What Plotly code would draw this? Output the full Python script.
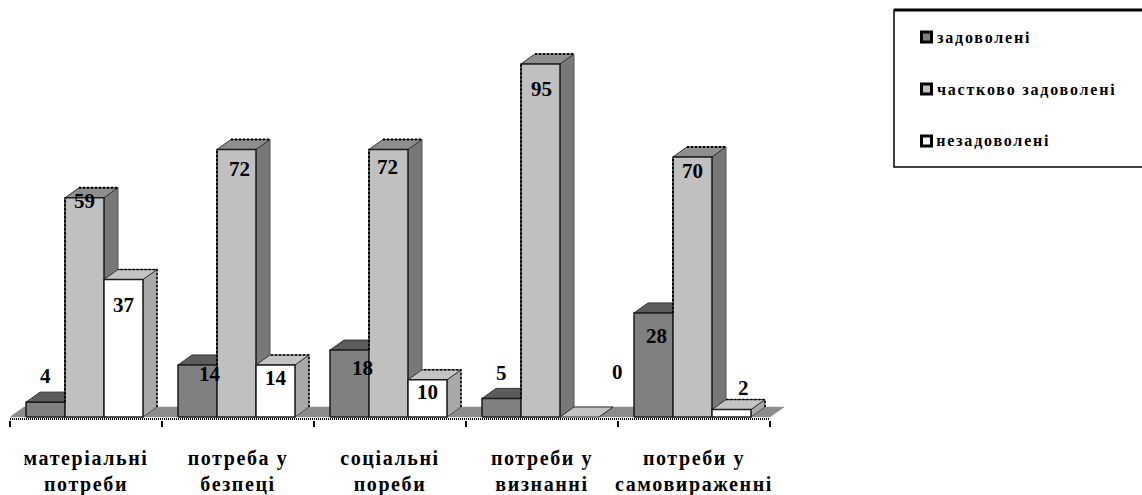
import plotly.graph_objects as go

categories = ["матеріальні<br>потреби", "потреба у<br>безпеці", "соціальні<br>пореби", "потреби у<br>визнанні", "потреби у<br>самовираженні"]
series_names = ["задоволені", "частково задоволені", "незадоволені"]
satisfied = [4, 14, 18, 5, 28]
partly = [59, 72, 72, 95, 70]
unsatisfied = [37, 14, 10, 0, 2]

# --- styling / geometry -------------------------------------------------
W, H = 1142, 495
PX_X0, PX_PITCH = 10.0, 152.0      # pixel of x=0, pixels per category
PX_Y0, PX_UNIT = 417.0, 3.716      # pixel of y=0, pixels per value unit
PLOT_BOTTOM = 420.0
BAR_OFFSET = 16 / PX_PITCH
BAR_W = 39 / PX_PITCH
DX = 14 / PX_PITCH
DY = 10 / PX_UNIT
FONT = "Liberation Serif"
front = ["#808080", "#c0c0c0", "#ffffff"]
top = ["#5c5c5c", "#8e8e8e", "#c4c4c4"]
side = ["#6a6a6a", "#787878", "#a8a8a8"]
FLOOR = "#8c8c8c"
EDGE = "#1c1c1c"
DOTS = "2px,2px"
# label offsets from the top centre of each bar, in pixels (right, down)
label_off = [
    [(0, -26), (0, 3), (0, 25)],
    [(12, 9), (3, 20), (0, 13)],
    [(13, 18), (-1, 18), (0, 12)],
    [(0, -25), (1, 25), (38, -45)],
    [(3, 23), (0, 14), (12, -22)],
]
all_series = [satisfied, partly, unsatisfied]

fig = go.Figure()


def poly(xs, ys, fill, line=EDGE, lw=1.0):
    fig.add_trace(go.Scatter(
        x=xs + xs[:1], y=ys + ys[:1], mode="lines", fill="toself", fillcolor=fill,
        line=dict(color=line, width=lw), hoverinfo="skip", showlegend=False))


def edge(xs, ys, color="#000000", lw=2, dash=DOTS):
    fig.add_trace(go.Scatter(x=xs, y=ys, mode="lines", line=dict(color=color, width=lw, dash=dash),
                             hoverinfo="skip", showlegend=False))


n = len(categories)
# floor
poly([0, n, n + DX, DX], [0, 0, DY, DY], FLOOR, line="#8c8c8c", lw=0.5)

for g in range(n):
    for s, vals in enumerate(all_series):
        v = vals[g]
        x0 = g + BAR_OFFSET + s * BAR_W
        x1 = x0 + BAR_W
        poly([x1, x1 + DX, x1 + DX, x1], [0, DY, v + DY, v], side[s], line="#555555", lw=1)
        poly([x0, x1, x1 + DX, x0 + DX], [v, v, v + DY, v + DY], top[s], line="#333333", lw=1)
        if v > 0:
            poly([x0, x1, x1, x0], [0, 0, v, v], front[s], lw=1.5)
        if s == 1:
            edge([x0, x0], [satisfied[g], v])
            edge([x0 + DX, x1 + DX], [v + DY, v + DY])
        if s == 2 and v > 0:
            edge([x1 + DX, x1 + DX, x0 + DX], [DY, v + DY, v + DY], lw=1.5)

# baseline (dotted)
edge([0, n], [-2 / PX_UNIT, -2 / PX_UNIT], dash="1px,1px")

# value labels
annotations = []
for g in range(n):
    for s, vals in enumerate(all_series):
        v = vals[g]
        ox, oy = label_off[g][s]
        annotations.append(dict(
            x=g + BAR_OFFSET + (s + 0.5) * BAR_W, y=v, xref="x", yref="y", text=f"<b>{v}</b>",
            showarrow=False, xshift=ox, yshift=-oy, font=dict(family=FONT, size=21, color="#000000")))

# legend box (paper y runs over the plot area, which ends at PLOT_BOTTOM)
def py_paper(p):
    return 1 - p / PLOT_BOTTOM


legend_y = [37, 89, 141]
legend_cx = [984, 1026.5, 993.5]
LX = 926.5
shapes = [dict(type="rect", xref="paper", yref="paper",
               x0=894 / W, x1=1160 / W, y0=py_paper(167), y1=py_paper(10),
               line=dict(color="#000000", width=1.5), fillcolor="#ffffff", layer="below"),
          dict(type="line", xref="paper", yref="paper",
               x0=894 / W, x1=1, y0=py_paper(10), y1=py_paper(10),
               line=dict(color="#000000", width=3))]
for name, py, cx, c in zip(series_names, legend_y, legend_cx, front):
    shapes.append(dict(type="rect", xref="paper", yref="paper",
                       x0=(LX - 5) / W, x1=(LX + 5) / W, y0=py_paper(py + 5), y1=py_paper(py - 5),
                       line=dict(color="#000000", width=3), fillcolor=c))
    annotations.append(dict(x=cx / W, y=py_paper(py), xref="paper", yref="paper",
                            text=f"<b>{name}</b>", showarrow=False, xanchor="center", yanchor="middle",
                            font=dict(family=FONT, size=16, color="#000000")))

fig.update_layout(
    width=W, height=H, autosize=False,
    margin=dict(l=0, r=0, t=0, b=H - PLOT_BOTTOM, pad=0),
    paper_bgcolor="#ffffff", plot_bgcolor="rgba(0,0,0,0)",
    showlegend=False, annotations=annotations, shapes=shapes,
    xaxis=dict(
        range=[-PX_X0 / PX_PITCH, (W - PX_X0) / PX_PITCH],
        tickvals=[i + 0.5 for i in range(n)], ticktext=[f"<b>{c}</b>".replace("<br>", "</b><br><b>") for c in categories],
        ticks="", showgrid=False, zeroline=False, showline=False,
        tickfont=dict(family=FONT, size=20, color="#000000"), tickangle=0,
        ticklabelstandoff=24,
        minor=dict(tickvals=list(range(n + 1)), ticks="outside", ticklen=6, tickwidth=2, tickcolor="#000000", showgrid=False),
        fixedrange=True),
    yaxis=dict(range=[(PX_Y0 - PLOT_BOTTOM) / PX_UNIT, PX_Y0 / PX_UNIT], visible=False, fixedrange=True),
)

post = """
document.body.style.margin='0';
var gd=document.getElementById('{plot_id}');
function sp(){
  gd.querySelectorAll('.xtick text').forEach(function(t){t.style.letterSpacing='1.6px';});
  gd.querySelectorAll('.annotation-text').forEach(function(t){
    if(t.textContent.length>2){t.style.letterSpacing='1.8px';}
  });
}
sp(); gd.on('plotly_afterplot',sp);
"""
fig.write_html("out.html", post_script=post, config={"displayModeBar": False})
